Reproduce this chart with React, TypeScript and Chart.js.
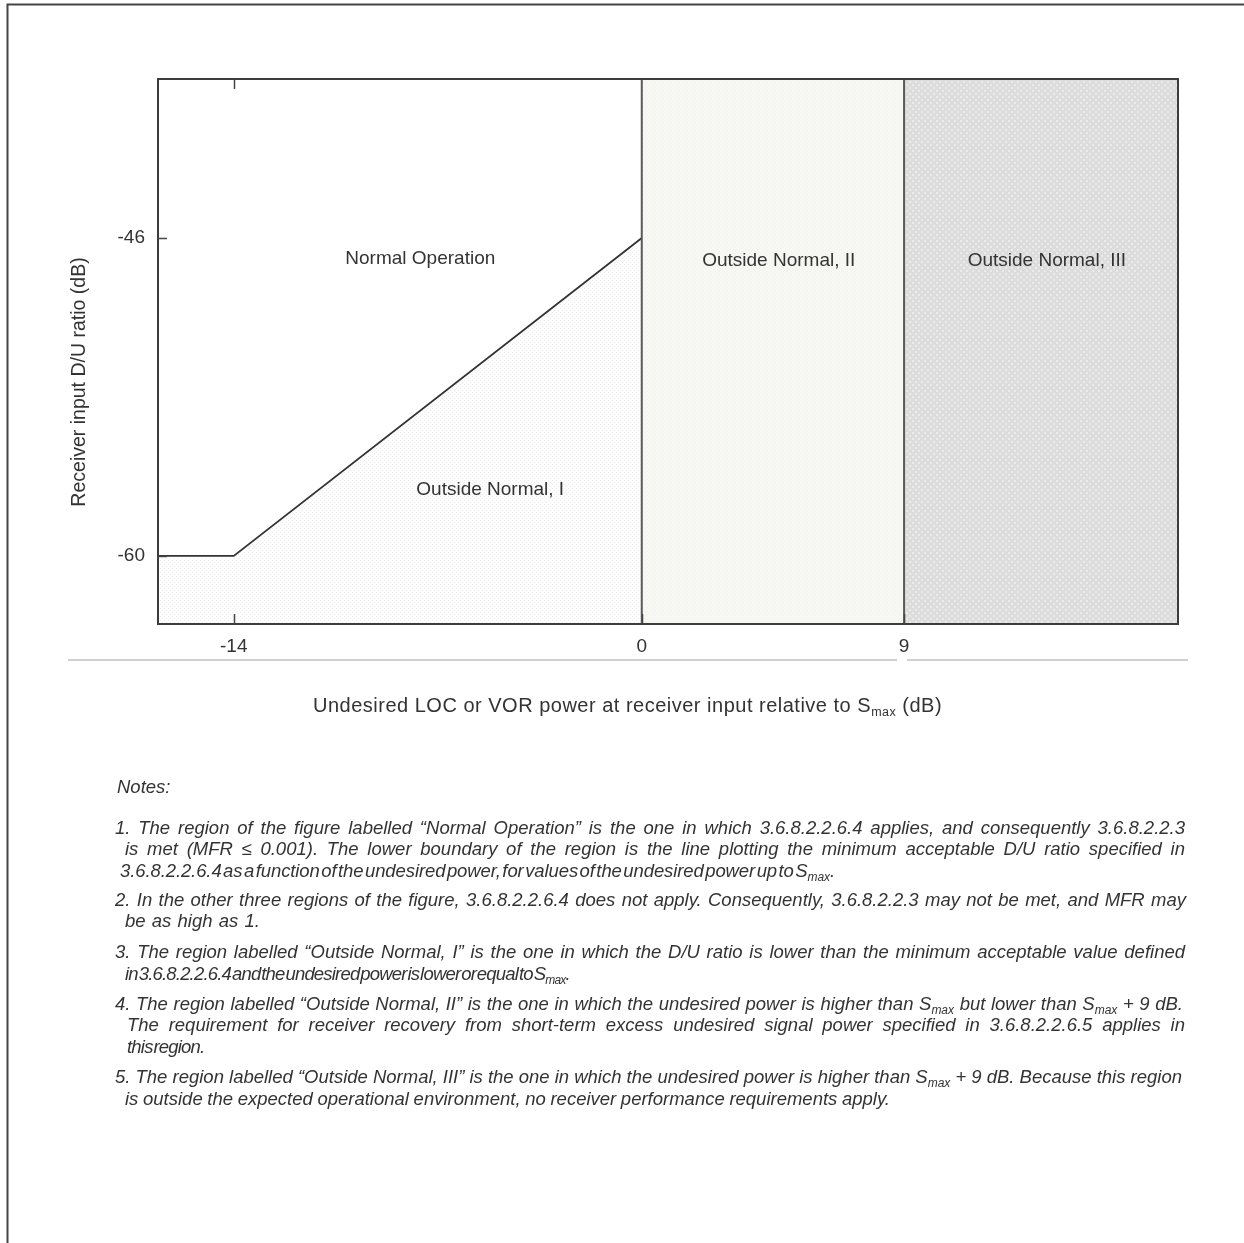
import React, { useEffect, useLayoutEffect, useRef } from "react";
import { Chart, registerables } from "chart.js";

Chart.register(...registerables);

// ---------------- data ----------------
const xRange = [-16.6, 18.4];
const yRange = [-63, -39];
const xTickValues = [-14, 0, 9];
const yTickValues = [-60, -46];
const boundaryX = [-16.6, -14, 0];
const boundaryY = [-60, -60, -46];
const regionEdges = [0, 9]; // S_max and S_max + 9 dB
const regionNames = ["Normal Operation", "Outside Normal, I", "Outside Normal, II", "Outside Normal, III"];
const regionNameX = [-7.6, -5.2, 4.7, 13.9];
const regionNameY = [-46.9, -57.1, -47.0, -47.0];
const yAxisTitle = "Receiver input D/U ratio (dB)";
const xAxisTitle = ["Undesired LOC or VOR power at receiver input relative to S", "max", " (dB)"];

const notesHeading = "Notes:";
// "§" marks the S_max subscript
const noteLines = [
  "1. The region of the figure labelled \u201cNormal Operation\u201d is the one in which 3.6.8.2.2.6.4 applies, and consequently 3.6.8.2.2.3",
  "is met (MFR \u2264 0.001). The lower boundary of the region is the line plotting the minimum acceptable D/U ratio specified in",
  "3.6.8.2.2.6.4 as a function of the undesired power, for values of the undesired power up to S\u00a7.",
  "2. In the other three regions of the figure, 3.6.8.2.2.6.4 does not apply. Consequently, 3.6.8.2.2.3 may not be met, and MFR may",
  "be as high as 1.",
  "3. The region labelled \u201cOutside Normal, I\u201d is the one in which the D/U ratio is lower than the minimum acceptable value defined",
  "in 3.6.8.2.2.6.4 and the undesired power is lower or equal to S\u00a7.",
  "4. The region labelled \u201cOutside Normal, II\u201d is the one in which the undesired power is higher than S\u00a7 but lower than S\u00a7 + 9 dB.",
  "The requirement for receiver recovery from short-term excess undesired signal power specified in 3.6.8.2.2.6.5 applies in",
  "this region.",
  "5. The region labelled \u201cOutside Normal, III\u201d is the one in which the undesired power is higher than S\u00a7 + 9 dB. Because this region",
  "is outside the expected operational environment, no receiver performance requirements apply.",
];

// ---------------- layout (not data) ----------------
const W = 1244;
const H = 1243;
const noteCenterY = [829, 850, 872, 901, 922, 953, 975, 1005, 1026, 1048, 1078, 1100];
const noteLeft = [115, 125, 120, 115, 125, 115, 125, 115, 127, 127, 115, 125];
const noteRight = [1185, 1185, 835, 1186, 260, 1185, 540, 1183, 1185, 203, 1182, 890];
const noteJustify = [true, true, false, true, false, true, false, true, true, false, true, false];

const FONT = '"Liberation Sans", Arial, Helvetica, sans-serif';
const TEXT = "#333333";

function makePattern(ctx: CanvasRenderingContext2D, bg: string, dot: string, size: number, dots: number[][]) {
  const c = document.createElement("canvas");
  c.width = size;
  c.height = size;
  const g = c.getContext("2d")!;
  g.fillStyle = bg;
  g.fillRect(0, 0, size, size);
  g.fillStyle = dot;
  dots.forEach(([dx, dy]) => g.fillRect(dx, dy, 1, 1));
  return ctx.createPattern(c, "repeat")!;
}

const decorPlugin = {
  id: "decor",
  afterDatasetsDraw(chart: any) {
    const { ctx, chartArea: a, scales } = chart;
    const x = scales.x;
    const y = scales.y;
    const seg = (x1: number, y1: number, x2: number, y2: number) => {
      ctx.beginPath();
      ctx.moveTo(x1, y1);
      ctx.lineTo(x2, y2);
      ctx.stroke();
    };
    ctx.save();
    // plot frame
    ctx.strokeStyle = "#3c3c3c";
    ctx.lineWidth = 2;
    ctx.strokeRect(a.left, a.top, a.right - a.left, a.bottom - a.top);
    // inner tick marks
    ctx.lineWidth = 1.5;
    ctx.strokeStyle = "#444";
    xTickValues.forEach((v) => {
      const px = Math.round(x.getPixelForValue(v)) + 0.5;
      seg(px, a.bottom, px, a.bottom - 10);
    });
    const tx = Math.round(x.getPixelForValue(xTickValues[0])) + 0.5;
    seg(tx, a.top, tx, a.top + 10);
    yTickValues.forEach((v) => {
      const py = Math.round(y.getPixelForValue(v)) + 0.5;
      seg(a.left, py, a.left + 9, py);
    });
    // region labels
    ctx.font = `19px ${FONT}`;
    ctx.fillStyle = TEXT;
    ctx.textAlign = "center";
    ctx.textBaseline = "middle";
    regionNames.forEach((name, i) => {
      ctx.fillText(name, x.getPixelForValue(regionNameX[i]), y.getPixelForValue(regionNameY[i]));
    });
    // y axis title
    ctx.save();
    ctx.font = `19.5px ${FONT}`;
    ctx.translate(80, 382);
    ctx.rotate(-Math.PI / 2);
    ctx.fillText(yAxisTitle, 0, 0);
    ctx.restore();
    // light rule under tick labels
    ctx.strokeStyle = "#d0d0d0";
    ctx.lineWidth = 2;
    const gx = x.getPixelForValue(xTickValues[2]);
    seg(68, 660, gx - 7, 660);
    seg(gx + 3, 660, 1188, 660);
    // page frame
    ctx.strokeStyle = "#454545";
    ctx.lineWidth = 2;
    ctx.beginPath();
    ctx.moveTo(7.5, H);
    ctx.lineTo(7.5, 4.5);
    ctx.lineTo(W, 4.5);
    ctx.stroke();
    ctx.restore();
  },
};

function renderLine(text: string) {
  const parts = text.split("\u00a7");
  const out: React.ReactNode[] = [];
  parts.forEach((p, i) => {
    out.push(<React.Fragment key={"t" + i}>{p}</React.Fragment>);
    if (i < parts.length - 1)
      out.push(
        <sub key={"s" + i} style={{ fontSize: 12, lineHeight: 0, verticalAlign: "baseline", position: "relative", top: 4 }}>
          max
        </sub>
      );
  });
  return out;
}

export default function App() {
  const canvasRef = useRef<HTMLCanvasElement | null>(null);
  const lineRefs = useRef<(HTMLDivElement | null)[]>([]);

  useLayoutEffect(() => {
    noteLines.forEach((line, i) => {
      const el = lineRefs.current[i];
      if (!el) return;
      const target = noteRight[i] - noteLeft[i];
      el.style.width = "auto";
      el.style.letterSpacing = "0px";
      el.style.wordSpacing = "0px";
      const natural = el.getBoundingClientRect().width;
      if (noteJustify[i] && natural <= target) {
        el.style.width = target + "px";
        el.style.textAlign = "justify";
        (el.style as any).textAlignLast = "justify";
        return;
      }
      const spaces = (line.match(/ /g) || []).length;
      const chars = line.replace(/\u00a7/g, "max").length;
      let diff = target - natural;
      let ws = 0;
      if (spaces > 0) {
        ws = Math.max(-3.5, Math.min(3, diff / spaces));
        diff -= ws * spaces;
      }
      const ls = Math.max(-0.8, Math.min(1, diff / chars));
      el.style.wordSpacing = ws + "px";
      el.style.letterSpacing = ls + "px";
    });
  }, []);

  useEffect(() => {
    const canvas = canvasRef.current!;
    const ctx = canvas.getContext("2d")!;
    const patI = makePattern(ctx, "#fdfdfd", "#eeeeee", 4, [[0, 0], [2, 2]]);
    const patII = makePattern(ctx, "#f7f7f3", "#f0f0eb", 4, [[1, 1], [3, 3]]);
    const patIII = makePattern(ctx, "#dcdcdc", "#ebebeb", 6, [[0, 0], [1, 0], [0, 1], [1, 1], [3, 3], [4, 3], [3, 4], [4, 4]]);

    const pts = (xs: number[], ys: number[]) => xs.map((v, i) => ({ x: v, y: ys[i] }));

    const chart = new Chart(canvas, {
      type: "line",
      data: {
        datasets: [
          {
            label: "S_max",
            data: pts([regionEdges[0], regionEdges[0]], [yRange[0], yRange[1]]),
            borderColor: "#5a5a5a",
            borderWidth: 2,
            pointRadius: 0,
            fill: false,
          },
          {
            label: "S_max + 9 dB",
            data: pts([regionEdges[1], regionEdges[1]], [yRange[0], yRange[1]]),
            borderColor: "#5a5a5a",
            borderWidth: 2,
            pointRadius: 0,
            fill: false,
          },
          {
            label: "Minimum D/U",
            data: pts(boundaryX, boundaryY),
            borderColor: "#333333",
            borderWidth: 1.8,
            pointRadius: 0,
            fill: "start",
            backgroundColor: patI,
          },
          {
            label: "Outside Normal, II",
            data: pts([regionEdges[0], regionEdges[1]], [yRange[1], yRange[1]]),
            borderWidth: 0,
            borderColor: "rgba(0,0,0,0)",
            pointRadius: 0,
            fill: "start",
            backgroundColor: patII,
          },
          {
            label: "Outside Normal, III",
            data: pts([regionEdges[1], xRange[1]], [yRange[1], yRange[1]]),
            borderWidth: 0,
            borderColor: "rgba(0,0,0,0)",
            pointRadius: 0,
            fill: "start",
            backgroundColor: patIII,
          },
        ],
      },
      options: {
        responsive: false,
        animation: false,
        devicePixelRatio: 1,
        layout: { padding: { left: 0, top: 79, right: W - 1178, bottom: H - 624 - 40 } },
        plugins: { legend: { display: false }, tooltip: { enabled: false } },
        scales: {
          x: {
            type: "linear",
            min: xRange[0],
            max: xRange[1],
            afterBuildTicks: (axis: any) => {
              axis.ticks = xTickValues.map((v) => ({ value: v }));
            },
            afterFit: (axis: any) => {
              axis.height = 40;
            },
            ticks: {
              autoSkip: false,
              maxRotation: 0,
              padding: 11,
              color: TEXT,
              font: { family: FONT, size: 19 },
              callback: (v: any) => String(v),
            },
            grid: { display: false, drawTicks: false },
            border: { display: false },
          },
          y: {
            type: "linear",
            min: yRange[0],
            max: yRange[1],
            afterBuildTicks: (axis: any) => {
              axis.ticks = yTickValues.map((v) => ({ value: v }));
            },
            afterFit: (axis: any) => {
              axis.width = 158;
            },
            ticks: {
              autoSkip: false,
              padding: 13,
              color: TEXT,
              font: { family: FONT, size: 19 },
              callback: (v: any) => String(v),
            },
            grid: { display: false, drawTicks: false },
            border: { display: false },
          },
        },
      },
      plugins: [decorPlugin],
    } as any);

    return () => chart.destroy();
  }, []);

  const noteStyle: React.CSSProperties = {
    position: "absolute",
    fontFamily: FONT,
    fontStyle: "italic",
    fontSize: 18.5,
    lineHeight: "22px",
    color: TEXT,
    whiteSpace: "nowrap",
  };

  return (
    <div style={{ position: "absolute", left: 0, top: 0, width: W, height: H, overflow: "hidden", background: "#fff" }}>
      <canvas ref={canvasRef} width={W} height={H} style={{ position: "absolute", left: 0, top: 0 }} />
      <div
        style={{
          position: "absolute",
          left: 313,
          top: 694,
          whiteSpace: "nowrap",
          fontFamily: FONT,
          fontSize: 20,
          letterSpacing: "0.5px",
          lineHeight: "22px",
          color: TEXT,
        }}
      >
        {xAxisTitle[0]}
        <sub style={{ fontSize: 12.5, lineHeight: 0, verticalAlign: "baseline", position: "relative", top: 4 }}>{xAxisTitle[1]}</sub>
        {xAxisTitle[2]}
      </div>
      <div style={{ ...noteStyle, left: 117, top: 788 - 12 }}>{notesHeading}</div>
      {noteLines.map((line, i) => (
        <div
          key={i}
          ref={(el) => {
            lineRefs.current[i] = el;
          }}
          style={{ ...noteStyle, left: noteLeft[i], top: noteCenterY[i] - 12 }}
        >
          {renderLine(line)}
        </div>
      ))}
    </div>
  );
}
